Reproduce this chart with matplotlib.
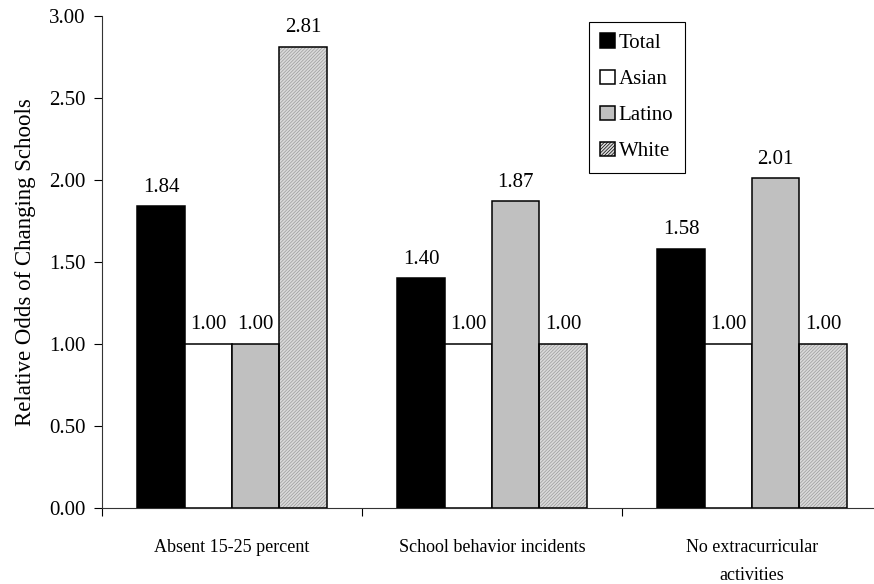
import numpy as np
import matplotlib
matplotlib.use("Agg")
import matplotlib.pyplot as plt

categories = ["Absent 15-25 percent", "School behavior incidents", "No extracurricular\nactivities"]
series_names = ["Total", "Asian", "Latino", "White"]
total = [1.84, 1.40, 1.58]
asian = [1.00, 1.00, 1.00]
latino = [1.00, 1.87, 2.01]
white = [2.81, 1.00, 1.00]
yticks = [0.0, 0.5, 1.0, 1.5, 2.0, 2.5, 3.0]

plt.rcParams["font.family"] = ["Liberation Serif", "DejaVu Serif"]
plt.rcParams["hatch.linewidth"] = 0.5

fig = plt.figure(figsize=(8.74, 5.84), dpi=100)
ax = fig.add_axes([102 / 874, 1 - 508 / 584, 780 / 874, 492 / 584])

values = [total, asian, latino, white]
faces = ["#000000", "#ffffff", "#c0c0c0", "#dadada"]
n = len(categories)
x = np.arange(n)
width = 0.182
offsets = (np.arange(4) - 1.5) * width

handles = []
for i, (name, vals, fc) in enumerate(zip(series_names, values, faces)):
    pos = x + offsets[i]
    if name == "White":
        # fine grey stipple, then the black outline on top
        ax.bar(pos, vals, width, color=fc, edgecolor="#9a9a9a", hatch="//////////",
               linewidth=0, zorder=2)
        bars = ax.bar(pos, vals, width, fill=False, edgecolor="black",
                      linewidth=1.1, zorder=3)
        handles.append(ax.bar([np.nan], [np.nan], width, color=fc, edgecolor="black",
                              hatch="//////////", linewidth=1.1, label=name))
    else:
        bars = ax.bar(pos, vals, width, color=fc, edgecolor="black",
                      linewidth=1.1, zorder=3, label=name)
        handles.append(bars)
    for b, v in zip(bars, vals):
        ax.annotate(f"{v:.2f}", (b.get_x() + b.get_width() / 2, v),
                    xytext=(0, 7), textcoords="offset points",
                    ha="center", va="bottom", fontsize=15)

ax.set_xlim(-0.5, n - 0.5)
ax.set_ylim(0, 3.0)
ax.set_yticks(yticks)
ax.set_yticklabels([f"{t:.2f}" for t in yticks], fontsize=15)
ax.set_xticks(np.arange(n + 1) - 0.5)
ax.set_xticklabels([])
ax.set_xticks(x, minor=True)
ax.set_xticklabels(categories, minor=True, fontsize=13, linespacing=1.9)
ax.tick_params(axis="x", which="minor", length=0, pad=22)
ax.tick_params(axis="x", which="major", length=6, width=0.8, direction="out")
ax.tick_params(axis="y", length=6, width=0.8, direction="out", pad=6)
for side in ["top", "right"]:
    ax.spines[side].set_visible(False)
for side in ["left", "bottom"]:
    ax.spines[side].set_linewidth(0.8)
    ax.spines[side].set_color("#333333")

ax.set_ylabel("Relative Odds of Changing Schools", fontsize=16.5, labelpad=9)

leg = ax.legend(handles=handles, labels=series_names, loc="upper left",
                bbox_to_anchor=(589 / 874, 1 - 22 / 584), bbox_transform=fig.transFigure,
                fontsize=15, frameon=True, fancybox=False, framealpha=1,
                edgecolor="black", handlelength=0.68, handleheight=0.68,
                handletextpad=0.2, labelspacing=0.8, borderpad=0.55,
                borderaxespad=0)
leg.get_frame().set_linewidth(0.8)

fig.savefig("out.png", dpi=100)
